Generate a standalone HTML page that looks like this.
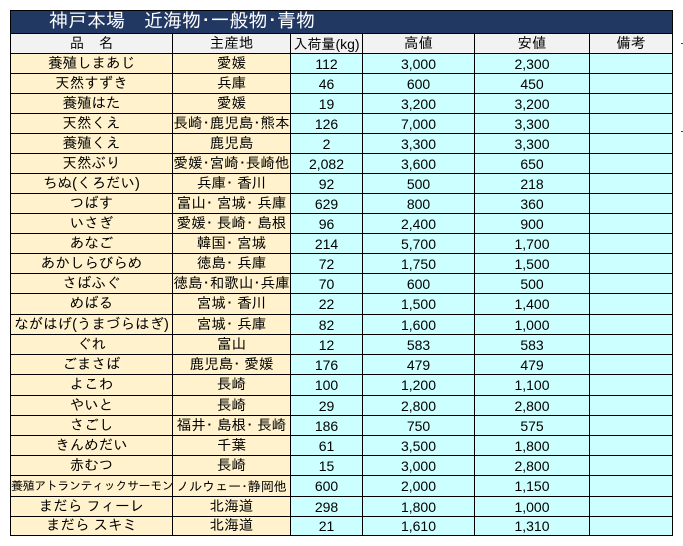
<!DOCTYPE html>
<html><head><meta charset="utf-8">
<style>
html,body{margin:0;padding:0;background:#fff;}
body{width:683px;height:546px;overflow:hidden;position:relative;
font-family:"Liberation Sans","IPAGothic","Noto Sans CJK JP",sans-serif;font-size:14px;color:#000;}
.title{position:absolute;left:10px;top:10px;width:663px;height:23px;box-sizing:border-box;
border:1px solid #000;border-bottom:none;background:#213863;color:#fff;font-size:19px;line-height:22px;padding-left:38px;white-space:nowrap;}
.r{position:absolute;left:10px;width:663px;box-sizing:border-box;border-top:1px solid #000;}
.c{position:absolute;top:0;bottom:0;box-sizing:border-box;border-left:1px solid #000;text-align:center;white-space:nowrap;overflow:hidden;}
.c1{left:0;width:162px;background:#fff2cc;font-size:14.5px;}
.c2{left:162px;width:118px;background:#fff2cc;font-size:14.5px;}
.c3{left:280px;width:72px;background:#ccffff;}
.c4{left:352px;width:112px;background:#ccffff;}
.c5{left:464px;width:115px;background:#ccffff;}
.c6{left:579px;width:84px;background:#ccffff;border-right:1px solid #000;}
.h .c{background:#f2f2f2;font-size:14.5px;}
.h .c3{font-size:14px;}
.bot{position:absolute;left:10px;top:535px;width:663px;height:1px;background:#000;}
.mk{position:absolute;left:681px;width:2px;height:1px;background:#444;}
</style></head><body>
<div class="title">神戸本場　近海物･一般物･青物</div>

<div class="r h" style="top:33px;height:20px;line-height:20px;"><div class="c c1">品　名</div><div class="c c2">主産地</div><div class="c c3">入荷量(kg)</div><div class="c c4">高値</div><div class="c c5">安値</div><div class="c c6">備考</div></div>

<div class="r" style="top:53px;height:20px;line-height:20px;"><div class="c c1">養殖しまあじ</div><div class="c c2">愛媛</div><div class="c c3">112</div><div class="c c4">3,000</div><div class="c c5">2,300</div><div class="c c6"></div></div>
<div class="r" style="top:73px;height:20px;line-height:20px;"><div class="c c1">天然すずき</div><div class="c c2">兵庫</div><div class="c c3">46</div><div class="c c4">600</div><div class="c c5">450</div><div class="c c6"></div></div>
<div class="r" style="top:93px;height:20px;line-height:20px;"><div class="c c1">養殖はた</div><div class="c c2">愛媛</div><div class="c c3">19</div><div class="c c4">3,200</div><div class="c c5">3,200</div><div class="c c6"></div></div>
<div class="r" style="top:113px;height:20px;line-height:20px;"><div class="c c1">天然くえ</div><div class="c c2">長崎･鹿児島･熊本</div><div class="c c3">126</div><div class="c c4">7,000</div><div class="c c5">3,300</div><div class="c c6"></div></div>
<div class="r" style="top:133px;height:20px;line-height:20px;"><div class="c c1">養殖くえ</div><div class="c c2">鹿児島</div><div class="c c3">2</div><div class="c c4">3,300</div><div class="c c5">3,300</div><div class="c c6"></div></div>
<div class="r" style="top:153px;height:20px;line-height:20px;"><div class="c c1">天然ぶり</div><div class="c c2">愛媛･宮崎･長崎他</div><div class="c c3">2,082</div><div class="c c4">3,600</div><div class="c c5">650</div><div class="c c6"></div></div>
<div class="r" style="top:173px;height:20px;line-height:20px;"><div class="c c1">ちぬ(くろだい)</div><div class="c c2">兵庫･ 香川</div><div class="c c3">92</div><div class="c c4">500</div><div class="c c5">218</div><div class="c c6"></div></div>
<div class="r" style="top:193px;height:20px;line-height:20px;"><div class="c c1">つばす</div><div class="c c2">富山･ 宮城･ 兵庫</div><div class="c c3">629</div><div class="c c4">800</div><div class="c c5">360</div><div class="c c6"></div></div>
<div class="r" style="top:213px;height:20px;line-height:20px;"><div class="c c1">いさぎ</div><div class="c c2">愛媛･ 長崎･ 島根</div><div class="c c3">96</div><div class="c c4">2,400</div><div class="c c5">900</div><div class="c c6"></div></div>
<div class="r" style="top:233px;height:20px;line-height:20px;"><div class="c c1">あなご</div><div class="c c2">韓国･ 宮城</div><div class="c c3">214</div><div class="c c4">5,700</div><div class="c c5">1,700</div><div class="c c6"></div></div>
<div class="r" style="top:253px;height:20px;line-height:20px;"><div class="c c1">あかしらびらめ</div><div class="c c2">徳島･ 兵庫</div><div class="c c3">72</div><div class="c c4">1,750</div><div class="c c5">1,500</div><div class="c c6"></div></div>
<div class="r" style="top:273px;height:20px;line-height:20px;"><div class="c c1">さばふぐ</div><div class="c c2">徳島･和歌山･兵庫</div><div class="c c3">70</div><div class="c c4">600</div><div class="c c5">500</div><div class="c c6"></div></div>
<div class="r" style="top:293px;height:21px;line-height:21px;"><div class="c c1">めばる</div><div class="c c2">宮城･ 香川</div><div class="c c3">22</div><div class="c c4">1,500</div><div class="c c5">1,400</div><div class="c c6"></div></div>
<div class="r" style="top:314px;height:20px;line-height:20px;"><div class="c c1">ながはげ(うまづらはぎ)</div><div class="c c2">宮城･ 兵庫</div><div class="c c3">82</div><div class="c c4">1,600</div><div class="c c5">1,000</div><div class="c c6"></div></div>
<div class="r" style="top:334px;height:20px;line-height:20px;"><div class="c c1">ぐれ</div><div class="c c2">富山</div><div class="c c3">12</div><div class="c c4">583</div><div class="c c5">583</div><div class="c c6"></div></div>
<div class="r" style="top:354px;height:20px;line-height:20px;"><div class="c c1">ごまさば</div><div class="c c2">鹿児島･ 愛媛</div><div class="c c3">176</div><div class="c c4">479</div><div class="c c5">479</div><div class="c c6"></div></div>
<div class="r" style="top:374px;height:21px;line-height:21px;"><div class="c c1">よこわ</div><div class="c c2">長崎</div><div class="c c3">100</div><div class="c c4">1,200</div><div class="c c5">1,100</div><div class="c c6"></div></div>
<div class="r" style="top:395px;height:20px;line-height:20px;"><div class="c c1">やいと</div><div class="c c2">長崎</div><div class="c c3">29</div><div class="c c4">2,800</div><div class="c c5">2,800</div><div class="c c6"></div></div>
<div class="r" style="top:415px;height:20px;line-height:20px;"><div class="c c1">さごし</div><div class="c c2">福井･ 島根･ 長崎</div><div class="c c3">186</div><div class="c c4">750</div><div class="c c5">575</div><div class="c c6"></div></div>
<div class="r" style="top:435px;height:20px;line-height:20px;"><div class="c c1">きんめだい</div><div class="c c2">千葉</div><div class="c c3">61</div><div class="c c4">3,500</div><div class="c c5">1,800</div><div class="c c6"></div></div>
<div class="r" style="top:455px;height:20px;line-height:20px;"><div class="c c1">赤むつ</div><div class="c c2">長崎</div><div class="c c3">15</div><div class="c c4">3,000</div><div class="c c5">2,800</div><div class="c c6"></div></div>
<div class="r" style="top:475px;height:21px;line-height:21px;"><div class="c c1" style="font-size:12px;letter-spacing:-0.4px;">養殖アトランティックサーモン</div><div class="c c2" style="font-size:13px;">ノルウェー･静岡他</div><div class="c c3">600</div><div class="c c4">2,000</div><div class="c c5">1,150</div><div class="c c6"></div></div>
<div class="r" style="top:496px;height:20px;line-height:20px;"><div class="c c1">まだら フィーレ</div><div class="c c2">北海道</div><div class="c c3">298</div><div class="c c4">1,800</div><div class="c c5">1,000</div><div class="c c6"></div></div>
<div class="r" style="top:516px;height:19px;line-height:19px;"><div class="c c1">まだら スキミ</div><div class="c c2">北海道</div><div class="c c3">21</div><div class="c c4">1,610</div><div class="c c5">1,310</div><div class="c c6"></div></div>
<div class="bot"></div>
<div class="mk" style="top:43px;"></div>
<div class="mk" style="top:131px;"></div>
</body></html>
